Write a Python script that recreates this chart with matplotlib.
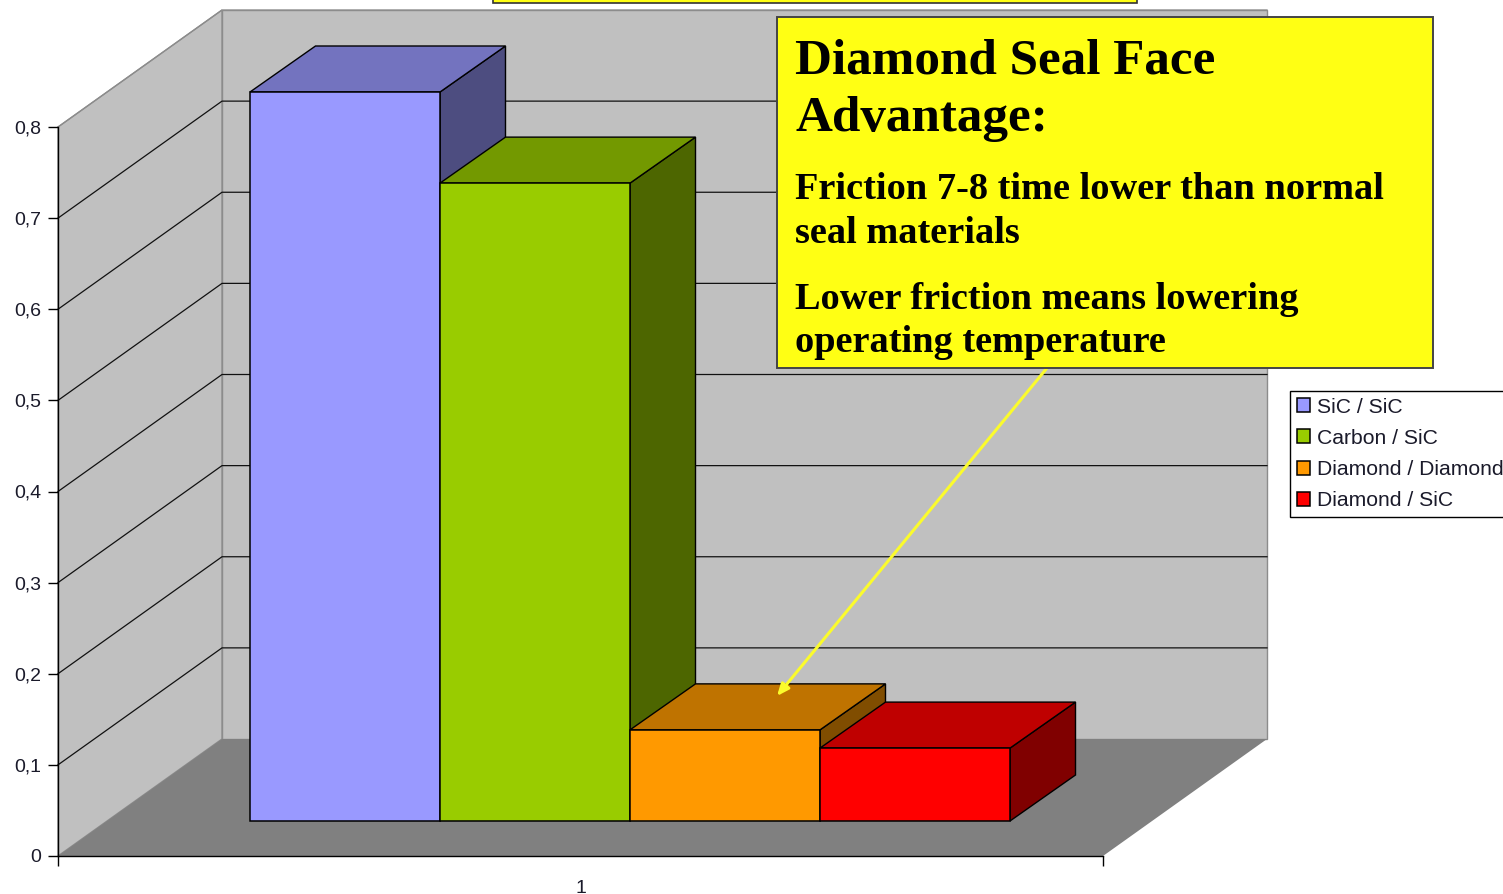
import matplotlib
matplotlib.use("Agg")
import matplotlib.pyplot as plt
from matplotlib.patches import Rectangle
from matplotlib.ticker import FuncFormatter

# values
series = ["SiC / SiC", "Carbon / SiC", "Diamond / Diamond", "Diamond / SiC"]
friction = [0.80, 0.70, 0.10, 0.08]
y_ticks = [0, 0.1, 0.2, 0.3, 0.4, 0.5, 0.6, 0.7, 0.8]
category = "1"

front_col = ["#9999ff", "#99cc00", "#ff9900", "#ff0000"]
top_col = ["#7373bf", "#739900", "#bf7300", "#bf0000"]
side_col = ["#4d4d80", "#4d6600", "#804d00", "#800000"]

plt.rcParams["font.family"] = ["Liberation Sans", "DejaVu Sans"]

W, H = 1503, 894
PX = 911.25  # pixels per friction unit
Y0 = 856


def py(p):
    return (Y0 - p) / PX


fig = plt.figure(figsize=(W / 100, H / 100), dpi=100)
ax = fig.add_axes([0, 0, 1, 1])
ax.set_xlim(0, W)
ax.set_ylim(py(H), py(0))

# walls and floor
wall_dx, wall_dy = 164, 117 / PX
x0, x1 = 58, 1103
top = y_ticks[-1]
ax.fill([x0 + wall_dx, x1 + wall_dx, x1 + wall_dx, x0 + wall_dx],
        [wall_dy, wall_dy, wall_dy + top, wall_dy + top],
        facecolor="#c0c0c0", edgecolor="#8c8c8c", lw=1, zorder=1)
ax.fill([x0, x0 + wall_dx, x0 + wall_dx, x0],
        [0, wall_dy, wall_dy + top, top],
        facecolor="#c0c0c0", edgecolor="#8c8c8c", lw=1, zorder=1)
ax.fill([x0, x0 + wall_dx, x1 + wall_dx, x1],
        [0, wall_dy, wall_dy, 0],
        facecolor="#808080", edgecolor="none", zorder=1.1)

# gridlines
for v in y_ticks[1:-1]:
    ax.plot([x0, x0 + wall_dx, x1 + wall_dx],
            [v, v + wall_dy, v + wall_dy], color="#111111", lw=0.9, zorder=1.2)
ax.plot([x0, x0 + wall_dx, x1 + wall_dx],
        [top, top + wall_dy, top + wall_dy], color="#8c8c8c", lw=0.9, zorder=1.2)

# 3d bars
bar_x0, bar_w = 250, 190
base = 35 / PX
dx, dy = 65.5, 46 / PX
handles = []
for i, val in enumerate(friction):
    z = 3 + i
    left = bar_x0 + i * bar_w
    right = left + bar_w
    h = base + val
    ax.fill([right, right + dx, right + dx, right],
            [base, base + dy, h + dy, h],
            facecolor=side_col[i], edgecolor="black", lw=1, zorder=z)
    ax.fill([left, right, right + dx, left + dx],
            [h, h, h + dy, h + dy],
            facecolor=top_col[i], edgecolor="black", lw=1, zorder=z)
    b = ax.bar(left, val, width=bar_w, bottom=base, align="edge", color=front_col[i],
               edgecolor="black", lw=1.1, zorder=z + 0.1, label=series[i])
    handles.append(b)

# axes
for s in ["top", "right"]:
    ax.spines[s].set_visible(False)
ax.spines["left"].set_position(("data", x0))
ax.spines["left"].set_bounds(0, top)
ax.spines["bottom"].set_position(("data", 0))
ax.spines["bottom"].set_bounds(x0, x1)
ax.spines["left"].set_linewidth(1)
ax.spines["bottom"].set_linewidth(1)
ax.spines["left"].set_zorder(8)
ax.spines["bottom"].set_zorder(8)
ax.set_yticks(y_ticks)
ax.yaxis.set_major_formatter(FuncFormatter(lambda v, p: f"{v:g}".replace(".", ",")))
ax.tick_params(axis="y", direction="out", length=7, width=1, labelsize=14, pad=5,
               labelcolor="#1a1a2a")
ax.set_xticks([x0, x1])
ax.set_xticklabels(["", ""])
ax.set_xticks([(x0 + x1) / 2 + 0], minor=True)
ax.set_xticklabels([category], minor=True, fontsize=14, color="#1a1a2a")
ax.tick_params(axis="x", which="major", direction="out", length=7, width=1)
ax.tick_params(axis="x", which="minor", length=0, pad=17)

# legend runs off the right edge like in the source
leg = fig.legend(handles=handles, labels=series, loc="upper left",
                 bbox_to_anchor=(1290 / W, 1 - 391 / H), borderaxespad=0,
                 frameon=True, fancybox=False, framealpha=1, edgecolor="black",
                 fontsize=15.2, labelspacing=0.58, handlelength=0.66, handleheight=0.66,
                 handletextpad=0.3, borderpad=0.31, labelcolor="#1a1a2a")
leg.get_frame().set_linewidth(1)

# callout
ax.add_patch(Rectangle((493, py(3)), 644, py(-6) - py(3), facecolor="#ffff14",
                       edgecolor="#333333", lw=1.2, zorder=9))
ax.add_patch(Rectangle((777, py(368)), 656, py(17) - py(368), facecolor="#ffff14",
                       edgecolor="#444444", lw=1.4, zorder=10))
serif = ["Liberation Serif", "DejaVu Serif"]
ax.text(795, py(73), "Diamond Seal Face", family=serif, weight="bold", fontsize=36.8,
        color="black", zorder=11)
ax.text(795, py(131), "Advantage:", family=serif, weight="bold", fontsize=36.8,
        color="black", zorder=11)
body = [("Friction 7-8 time lower than normal", 199),
        ("seal materials", 243),
        ("Lower friction means lowering", 309),
        ("operating temperature", 352)]
for line, base_px in body:
    ax.text(795, py(base_px), line, family=serif, weight="bold", fontsize=27.6,
            color="black", zorder=11)
ax.annotate("", xy=(777, py(696)), xytext=(1047, py(368)),
            arrowprops=dict(arrowstyle="-|>,head_length=0.7,head_width=0.3", color="#fbfb2c",
                            lw=2.2, shrinkA=0, shrinkB=0), zorder=9)

fig.savefig("out.png", dpi=100)
